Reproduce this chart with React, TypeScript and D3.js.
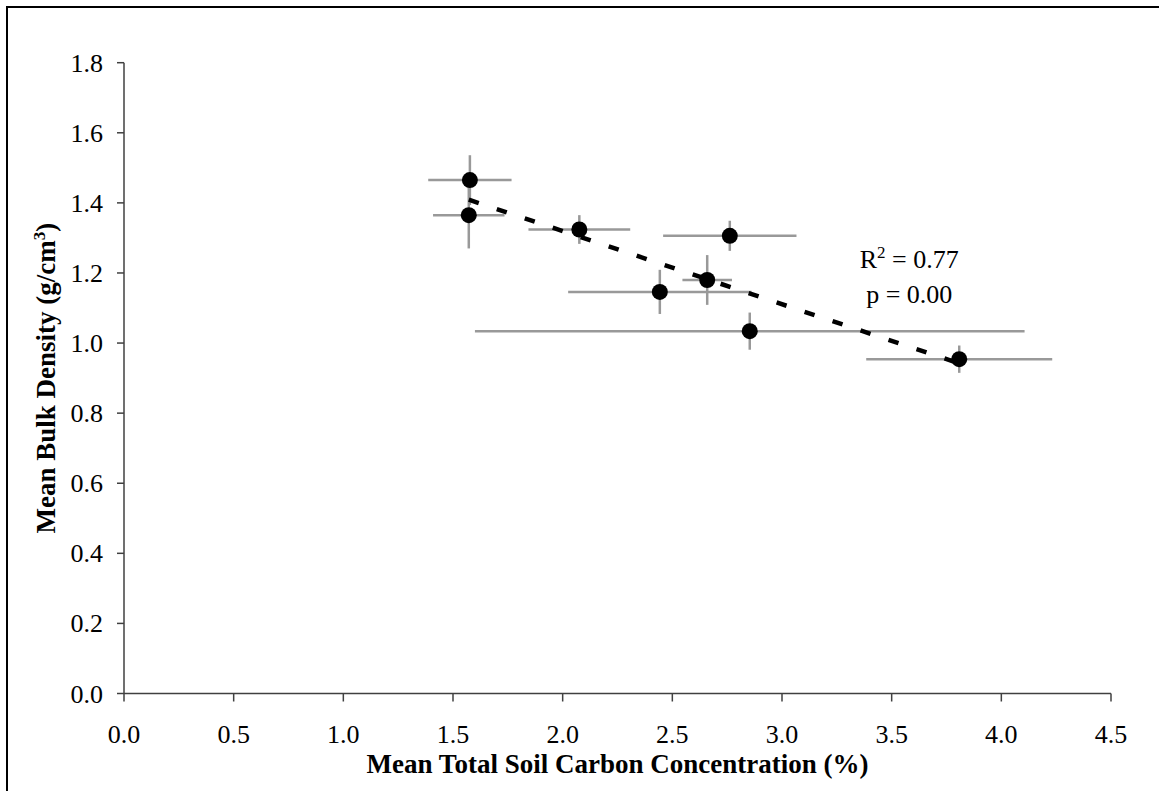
import * as d3 from "d3";

// Mean total soil carbon (%) and mean bulk density (g/cm3), with error bars
const carbon = [1.577, 1.572, 2.076, 2.762, 2.659, 2.443, 2.853, 3.808];
const carbonErr = [0.19, 0.163, 0.232, 0.304, 0.113, 0.418, 1.253, 0.424];
const density = [1.465, 1.365, 1.324, 1.306, 1.18, 1.146, 1.034, 0.954];
const densityErr = [0.071, 0.095, 0.041, 0.043, 0.071, 0.063, 0.053, 0.039];

const xTicks = [0, 0.5, 1, 1.5, 2, 2.5, 3, 3.5, 4, 4.5];
const yTicks = [0, 0.2, 0.4, 0.6, 0.8, 1, 1.2, 1.4, 1.6, 1.8];

const rSquared = "0.77";
const pValue = "0.00";

const width = 1159;
const height = 791;
const font = "'Liberation Serif', 'Times New Roman', serif";

export default function App() {
  const x = d3.scaleLinear().domain([0, 4.5]).range([124, 1111]);
  const y = d3.scaleLinear().domain([0, 1.8]).range([693.5, 62.7]);

  const points = carbon.map((c, i) => ({
    x: c,
    y: density[i],
    ex: carbonErr[i],
    ey: densityErr[i],
  }));

  // least squares trend line
  const mx = d3.mean(carbon) as number;
  const my = d3.mean(density) as number;
  const slope =
    d3.sum(points, (d) => (d.x - mx) * (d.y - my)) /
    d3.sum(points, (d) => (d.x - mx) ** 2);
  const [x0, x1] = d3.extent(carbon) as [number, number];
  const fit = (v: number) => my + slope * (v - mx);
  const trend = d3.line<number>()
    .x((v) => x(v))
    .y((v) => y(fit(v)))([x0, x1]);

  const axisColor = "#404040";
  const errColor = "#999999";
  const [px0, px1] = x.range();
  const [py0, py1] = y.range();

  return (
    <svg
      width={width}
      height={height}
      style={{ position: "absolute", left: 0, top: 0, background: "#fff" }}
      fontFamily={font}
    >
      <rect x={7} y={7} width={width} height={height} fill="#fff" stroke="#000" strokeWidth={2} />

      {/* axes */}
      <line x1={x(0)} x2={x(4.5)} y1={y(0)} y2={y(0)} stroke={axisColor} strokeWidth={1.5} />
      <line x1={x(0)} x2={x(0)} y1={y(0)} y2={y(1.8)} stroke={axisColor} strokeWidth={1.5} />
      {xTicks.map((t) => (
        <g key={"x" + t}>
          <line x1={x(t)} x2={x(t)} y1={y(0)} y2={y(0) + 8} stroke={axisColor} strokeWidth={1.5} />
          <text x={x(t)} y={743} textAnchor="middle" fontSize={26} fill="#000">
            {t.toFixed(1)}
          </text>
        </g>
      ))}
      {yTicks.map((t) => (
        <g key={"y" + t}>
          <line x1={x(0) - 7} x2={x(0)} y1={y(t)} y2={y(t)} stroke={axisColor} strokeWidth={1.5} />
          <text x={103} y={y(t) + 9} textAnchor="end" fontSize={26} fill="#000">
            {t.toFixed(1)}
          </text>
        </g>
      ))}

      {/* axis titles, centred on the plot area */}
      <text x={(px0 + px1) / 2} y={773} textAnchor="middle" fontSize={27} fontWeight="bold" fill="#000">
        Mean Total Soil Carbon Concentration (%)
      </text>
      <text
        transform={`translate(55,${(py0 + py1) / 2}) rotate(-90)`}
        textAnchor="middle"
        fontSize={27}
        fontWeight="bold"
        fill="#000"
      >
        Mean Bulk Density (g/cm
        <tspan dy={-10} fontSize={17}>3</tspan>
        <tspan dy={10}>)</tspan>
      </text>

      {/* error bars */}
      {points.map((d, i) => (
        <g key={"e" + i} stroke={errColor} strokeWidth={2.5}>
          <line x1={x(d.x - d.ex)} x2={x(d.x + d.ex)} y1={y(d.y)} y2={y(d.y)} />
          <line x1={x(d.x)} x2={x(d.x)} y1={y(d.y - d.ey)} y2={y(d.y + d.ey)} />
        </g>
      ))}

      {/* trend line */}
      <path d={trend ?? ""} fill="none" stroke="#000" strokeWidth={4.5} strokeDasharray="10.5,19" />

      {/* markers */}
      {points.map((d, i) => (
        <circle key={"p" + i} cx={x(d.x)} cy={y(d.y)} r={8} fill="#000" />
      ))}

      {/* annotation */}
      <text x={x(3.58)} y={268} textAnchor="middle" fontSize={26} fill="#000">
        R<tspan dy={-10} fontSize={17}>2</tspan>
        <tspan dy={10}> = {rSquared}</tspan>
      </text>
      <text x={x(3.58)} y={303} textAnchor="middle" fontSize={26} fill="#000">
        p = {pValue}
      </text>
    </svg>
  );
}
